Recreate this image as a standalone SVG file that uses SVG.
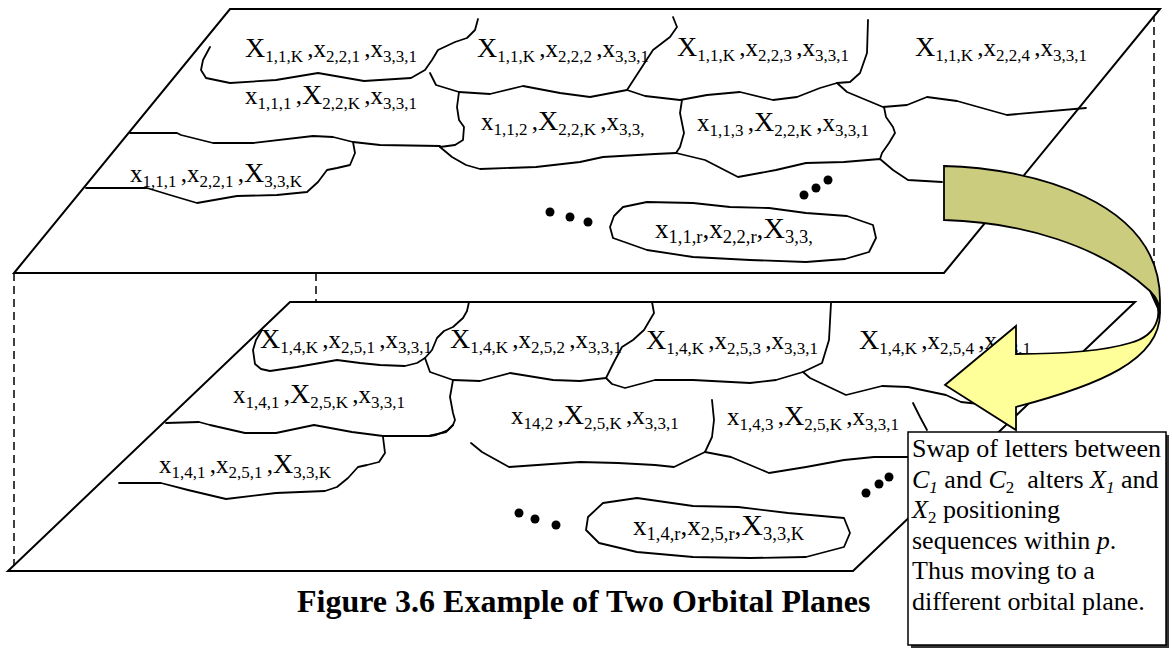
<svg xmlns="http://www.w3.org/2000/svg" width="1172" height="649" viewBox="0 0 1172 649">
<style>
.pl{fill:#fff;stroke:#000;stroke-width:2;stroke-linejoin:miter}
.cv{fill:none;stroke:#000;stroke-width:1.8;stroke-linejoin:round;stroke-linecap:round}
.ds{fill:none;stroke:#000;stroke-width:1.5;stroke-dasharray:8,5}
.lb{font-family:"Liberation Serif","Times New Roman",serif;font-size:25px;fill:#000}
.lb2{font-family:"Liberation Serif","Times New Roman",serif;font-size:27px;fill:#000}
.X{font-size:28px}
.lb2 .X{font-size:30px}
.s{font-size:17px}
.lb2 .s{font-size:18.5px}
.bx{font-family:"Liberation Serif","Times New Roman",serif;font-size:26px;fill:#000}
.i{font-style:italic}
.bs{font-size:17px}
.cap{font-family:"Liberation Serif","Times New Roman",serif;font-size:32px;font-weight:bold;fill:#000}
.dot{fill:#000}
</style>

<g id="guides">
<line class="ds" x1="14" y1="273" x2="14" y2="565"/>
<line class="ds" x1="316" y1="273" x2="316" y2="310"/>
<line class="ds" x1="1154" y1="14" x2="1154" y2="300"/>
</g>

<g id="plane-top">
<polygon class="pl" points="230,9 1160,9 944,273 14,273"/>
</g>
<g id="plane-bottom">
<polygon class="pl" points="290,302 1135,302 853,571 8,571"/>
</g>

<g id="regions-top">
<path class="cv" d="M210,47 L203,60 L201,70 L206,78 L230,83 L276,80 L318,73 L364,81 L411,78 L425,70 L432,60 L438,50 L455,42 L467,38 L475,30 L478,19"/>
<path class="cv" d="M430,73 L436,85 L459,92 L490,94 L523,86 L560,93 L590,97 L627,90 L645,96 L680,100 L707,95 L740,92 L773,100 L797,97 L820,88 L837,83 L850,82 L860,73 L867,53 L868,20"/>
<path class="cv" d="M627,90 L640,70 L653,50 L670,37 L677,27 L673,17"/>
<path class="cv" d="M837,83 L847,92 L883,107 L907,105 L927,97 L957,101 L1007,115 L1086,108"/>
<path class="cv" d="M459,92 L457,107 L459,120 L464,127 L463,140 L455,145 L440,147"/>
<path class="cv" d="M130,133 L177,133 L181,135 L213,143 L253,143 L313,136 L333,137 L353,142 L380,145 L440,146"/>
<path class="cv" d="M353,142 L355,153 L350,165 L337,168 L327,170 L318,182 L307,192 L277,195 L237,196 L197,203 L170,195 L147,188 L86,188"/>
<path class="cv" d="M440,147 L452,157 L466,165 L480,169 L536,167 L580,162 L603,157 L655,154 L676,153 L705,160 L738,177 L776,170 L806,163 L844,162 L880,159 L893,170 L908,180 L942,182"/>
<path class="cv" d="M682,100 L680,113 L684,133 L680,147 L676,153"/>
<path class="cv" d="M884,107 L886,117 L893,127 L895,133 L889,143 L882,153 L880,159"/>
<path class="cv" d="M623,207 L647,202 L693,203 L730,207 L769,208 L806,213 L847,216 L873,225 L876,238 L869,252 L845,259 L806,262 L750,260 L693,257 L647,250 L613,238 L610,227 L614,216 Z"/>
</g>

<g id="regions-bottom">
<path class="cv" d="M469,302 L467,311 L463,318 L453,327 L444,331 L437,338 L432,350 L425,358 L417,363 L405,366 L380,365 L360,363 L337,360 L320,363 L297,367 L270,371 L261,369 L255,364 L253,350 L256,340 L262,330"/>
<path class="cv" d="M425,358 L430,372 L453,380 L480,381 L510,373 L553,380 L580,381 L606,378"/>
<path class="cv" d="M606,378 L614,362 L622,347 L633,340 L644,330 L654,313 L652,302"/>
<path class="cv" d="M606,378 L612,384 L625,388 L655,380 L693,380 L750,383 L776,380 L803,372"/>
<path class="cv" d="M803,372 L822,363 L829,340 L831,303"/>
<path class="cv" d="M803,372 L810,378 L846,395 L882,386 L908,387 L946,395 L961,402 L988,405"/>
<path class="cv" d="M453,380 L450,397 L453,413 L455,420 L453,425 L448,430 L436,435 L429,436"/>
<path class="cv" d="M166,423 L199,422 L210,425 L245,433 L276,433 L314,425 L352,432 L383,436 L429,436 L446,432 L453,425"/>
<path class="cv" d="M383,437 L385,453 L379,462 L367,465 L358,467 L348,478 L337,487 L325,491 L276,493 L226,499 L188,490 L161,483 L119,483"/>
<path class="cv" d="M471,443 L482,452 L509,467 L580,462 L618,463 L655,465 L674,467 L705,452"/>
<path class="cv" d="M712,400 L714,420 L712,437 L705,452"/>
<path class="cv" d="M705,452 L731,457 L769,473 L806,467 L844,460 L874,457 L908,457"/>
<path class="cv" d="M913,403 L920,417 L927,430"/>
<path class="cv" d="M588,517 L603,503 L637,498 L693,506 L738,507 L788,513 L844,518 L850,533 L844,547 L806,557 L750,558 L693,557 L637,552 L599,543 L586,530 Z"/>
</g>

<g id="labels-top">
<text id="n1" class="lb" x="245" y="57"><tspan class="X">X</tspan><tspan class="s" dy="5">1,1,K </tspan><tspan dy="-5">,x</tspan><tspan class="s" dy="5">2,2,1 </tspan><tspan dy="-5">,x</tspan><tspan class="s" dy="5">3,3,1</tspan></text>
<text id="n2" class="lb" x="477" y="57"><tspan class="X">X</tspan><tspan class="s" dy="5">1,1,K </tspan><tspan dy="-5">,x</tspan><tspan class="s" dy="5">2,2,2 </tspan><tspan dy="-5">,x</tspan><tspan class="s" dy="5">3,3,1</tspan></text>
<text id="n3" class="lb" x="677" y="56"><tspan class="X">X</tspan><tspan class="s" dy="5">1,1,K </tspan><tspan dy="-5">,x</tspan><tspan class="s" dy="5">2,2,3 </tspan><tspan dy="-5">,x</tspan><tspan class="s" dy="5">3,3,1</tspan></text>
<text id="n4" class="lb" x="915" y="56"><tspan class="X">X</tspan><tspan class="s" dy="5">1,1,K </tspan><tspan dy="-5">,x</tspan><tspan class="s" dy="5">2,2,4 </tspan><tspan dy="-5">,x</tspan><tspan class="s" dy="5">3,3,1</tspan></text>
<text id="n5" class="lb" x="245" y="104">x<tspan class="s" dy="5">1,1,1 </tspan><tspan dy="-5">,</tspan><tspan class="X">X</tspan><tspan class="s" dy="5">2,2,K </tspan><tspan dy="-5">,x</tspan><tspan class="s" dy="5">3,3,1</tspan></text>
<text id="n6" class="lb" x="481" y="130">x<tspan class="s" dy="5">1,1,2 </tspan><tspan dy="-5">,</tspan><tspan class="X">X</tspan><tspan class="s" dy="5">2,2,K </tspan><tspan dy="-5">,x</tspan><tspan class="s" dy="5">3,3,</tspan></text>
<text id="n7" class="lb" x="697" y="131">x<tspan class="s" dy="5">1,1,3 </tspan><tspan dy="-5">,</tspan><tspan class="X">X</tspan><tspan class="s" dy="5">2,2,K </tspan><tspan dy="-5">,x</tspan><tspan class="s" dy="5">3,3,1</tspan></text>
<text id="n8" class="lb" x="130" y="182">x<tspan class="s" dy="5">1,1,1 </tspan><tspan dy="-5">,x</tspan><tspan class="s" dy="5">2,2,1 </tspan><tspan dy="-5">,</tspan><tspan class="X">X</tspan><tspan class="s" dy="5">3,3,K</tspan></text>
<text id="n9" class="lb2" x="655" y="238">x<tspan class="s" dy="5">1,1,r</tspan><tspan dy="-5">,x</tspan><tspan class="s" dy="5">2,2,r</tspan><tspan dy="-5">,</tspan><tspan class="X">X</tspan><tspan class="s" dy="5">3,3,</tspan></text>
</g>

<g id="labels-bottom">
<text id="n10" class="lb" x="260" y="348"><tspan class="X">X</tspan><tspan class="s" dy="5">1,4,K </tspan><tspan dy="-5">,x</tspan><tspan class="s" dy="5">2,5,1 </tspan><tspan dy="-5">,x</tspan><tspan class="s" dy="5">3,3,1</tspan></text>
<text id="n11" class="lb" x="450" y="348"><tspan class="X">X</tspan><tspan class="s" dy="5">1,4,K </tspan><tspan dy="-5">,x</tspan><tspan class="s" dy="5">2,5,2 </tspan><tspan dy="-5">,x</tspan><tspan class="s" dy="5">3,3,1</tspan></text>
<text id="n12" class="lb" x="646" y="349"><tspan class="X">X</tspan><tspan class="s" dy="5">1,4,K </tspan><tspan dy="-5">,x</tspan><tspan class="s" dy="5">2,5,3 </tspan><tspan dy="-5">,x</tspan><tspan class="s" dy="5">3,3,1</tspan></text>
<text id="n13" class="lb" x="859" y="349"><tspan class="X">X</tspan><tspan class="s" dy="5">1,4,K </tspan><tspan dy="-5">,x</tspan><tspan class="s" dy="5">2,5,4 </tspan><tspan dy="-5">,x</tspan><tspan class="s" dy="5">3,3,1</tspan></text>
<text id="n14" class="lb" x="233" y="403">x<tspan class="s" dy="5">1,4,1 </tspan><tspan dy="-5">,</tspan><tspan class="X">X</tspan><tspan class="s" dy="5">2,5,K </tspan><tspan dy="-5">,x</tspan><tspan class="s" dy="5">3,3,1</tspan></text>
<text id="n15" class="lb" x="511" y="424">x<tspan class="s" dy="5">14,2 </tspan><tspan dy="-5">,</tspan><tspan class="X">X</tspan><tspan class="s" dy="5">2,5,K </tspan><tspan dy="-5">,x</tspan><tspan class="s" dy="5">3,3,1</tspan></text>
<text id="n16" class="lb" x="727" y="425">x<tspan class="s" dy="5">1,4,3 </tspan><tspan dy="-5">,</tspan><tspan class="X">X</tspan><tspan class="s" dy="5">2,5,K </tspan><tspan dy="-5">,x</tspan><tspan class="s" dy="5">3,3,1</tspan></text>
<text id="n17" class="lb" x="159" y="473">x<tspan class="s" dy="5">1,4,1 </tspan><tspan dy="-5">,x</tspan><tspan class="s" dy="5">2,5,1 </tspan><tspan dy="-5">,</tspan><tspan class="X">X</tspan><tspan class="s" dy="5">3,3,K</tspan></text>
<text id="n18" class="lb2" x="633" y="535">x<tspan class="s" dy="5">1,4,r</tspan><tspan dy="-5">,x</tspan><tspan class="s" dy="5">2,5,r</tspan><tspan dy="-5">,</tspan><tspan class="X">X</tspan><tspan class="s" dy="5">3,3,K</tspan></text>
</g>

<g id="ellipsis-dots">
<circle class="dot" cx="550" cy="212" r="4.5"/>
<circle class="dot" cx="570" cy="217" r="4.5"/>
<circle class="dot" cx="588" cy="222" r="4.5"/>
<circle class="dot" cx="804" cy="195" r="4.5"/>
<circle class="dot" cx="816" cy="188" r="4.5"/>
<circle class="dot" cx="828" cy="180" r="4.5"/>
<circle class="dot" cx="519" cy="513" r="4.5"/>
<circle class="dot" cx="535" cy="519" r="4.5"/>
<circle class="dot" cx="556" cy="525" r="4.5"/>
<circle class="dot" cx="866" cy="493" r="4.5"/>
<circle class="dot" cx="879" cy="484" r="4.5"/>
<circle class="dot" cx="889" cy="477" r="4.5"/>
</g>

<g id="connectors">
<path d="M1150,291 C1165,310 1160,335 1130,343 C1100,352 1050,354 1016,354 L1016,326 L945,385 L1016,430 L1016,407 C1100,385 1160,360 1160,313 Z" fill="#FFFF99" stroke="#000" stroke-width="1.8" stroke-linejoin="miter"/>
<path d="M944,166 C1030,168 1160,200 1160,300 L1160,313 C1160,305 1156,297 1150,291 C1100,245 1020,222 944,220 Z" fill="#CCCC7F" stroke="#000" stroke-width="1.8" stroke-linejoin="miter"/>
</g>

<g id="note">
<rect x="911" y="435" width="258" height="213" fill="#333"/>
<rect x="908" y="432" width="258" height="213" fill="#fff" stroke="#000" stroke-width="1.5"/>
<text class="bx" x="912" y="457">Swap of letters between</text>
<text class="bx" x="912" y="487.5"><tspan class="i">C</tspan><tspan class="i bs" dy="5">1</tspan><tspan dy="-5"> and </tspan><tspan class="i">C</tspan><tspan class="bs" dy="5">2</tspan><tspan dy="-5">&#160; alters </tspan><tspan class="i">X</tspan><tspan class="i bs" dy="5">1</tspan><tspan dy="-5"> and</tspan></text>
<text class="bx" x="912" y="518"><tspan class="i">X</tspan><tspan class="bs" dy="5">2</tspan><tspan dy="-5"> positioning</tspan></text>
<text class="bx" x="912" y="548.5">sequences within <tspan class="i">p</tspan>.</text>
<text class="bx" x="912" y="579">Thus moving to a</text>
<text class="bx" x="912" y="609.5">different orbital plane.</text>
</g>

<g id="caption">
<text class="cap" x="297" y="612">Figure 3.6 Example of Two Orbital Planes</text>
</g>
</svg>
